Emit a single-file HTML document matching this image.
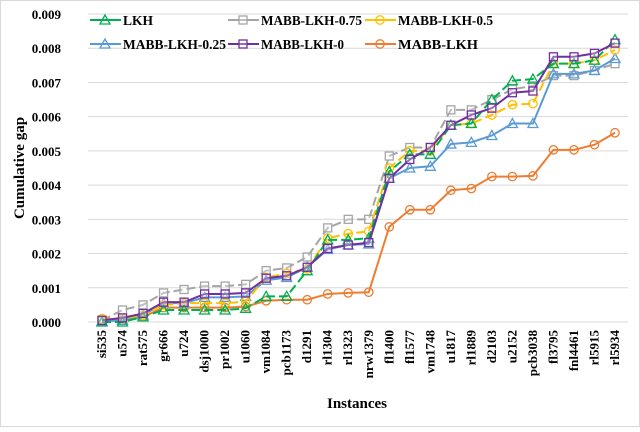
<!DOCTYPE html>
<html><head><meta charset="utf-8"><style>
body{margin:0;background:#fff}
svg text{font-family:"Liberation Serif",serif;font-weight:bold;fill:#000}
</style></head><body>
<svg id="s" width="640" height="427" xmlns="http://www.w3.org/2000/svg">
<rect x="0.5" y="0.5" width="639" height="426" fill="#fff" stroke="#d9d9d9"/>
</svg>
<script>
const s=document.getElementById('s');const NS='http://www.w3.org/2000/svg';
function el(t,a,txt){const e=document.createElementNS(NS,t);for(const k in a)e.setAttribute(k,a[k]);if(txt!==undefined)e.textContent=txt;s.appendChild(e);return e;}
const y0=322,dy=34.22,x0=102,dx=20.52;
const Y=v=>y0-v*dy,X=i=>x0+i*dx;
for(let i=0;i<=9;i++){el('line',{x1:88,x2:628,y1:Y(i),y2:Y(i),stroke:'#d9d9d9','stroke-width':1});
el('text',{x:61,y:Y(i)+5,'text-anchor':'end','font-size':13},(i/1000).toFixed(3));}
const names=['si535','u574','rat575','gr666','u724','dsj1000','pr1002','u1060','vm1084','pcb1173','d1291','rl1304','rl1323','nrw1379','fl1400','fl1577','vm1748','u1817','rl1889','d2103','u2152','pcb3038','fl3795','fnl4461','rl5915','rl5934'];
names.forEach((n,i)=>el('text',{x:0,y:0,'font-size':13,'text-anchor':'end',transform:`translate(${X(i)+4},330) rotate(-90)`},n));
el('text',{x:357,y:408,'text-anchor':'middle','font-size':15},'Instances');
el('text',{x:0,y:0,'text-anchor':'middle','font-size':15,transform:'translate(24,168) rotate(-90)'},'Cumulative gap');
const S=[
{c:'#a5a5a5',m:'sq',d:true,v:[0.05,0.35,0.5,0.85,0.95,1.05,1.05,1.1,1.5,1.58,1.9,2.75,3.0,3.0,4.85,5.1,5.1,6.2,6.2,6.5,6.8,6.9,7.2,7.2,7.35,7.55]},
{c:'#ed7d31',m:'ci',v:[0.05,0.05,0.15,0.42,0.42,0.42,0.42,0.45,0.62,0.65,0.65,0.82,0.85,0.87,2.78,3.28,3.28,3.85,3.9,4.25,4.25,4.27,5.03,5.03,5.18,5.53]},
{c:'#5b9bd5',m:'tr',v:[0.02,0.05,0.2,0.55,0.55,0.72,0.72,0.75,1.22,1.3,1.6,2.12,2.25,2.28,4.2,4.5,4.55,5.2,5.25,5.45,5.8,5.8,7.25,7.25,7.35,7.7]},
{c:'#ffc000',m:'ci',d:true,v:[0.1,0.1,0.2,0.5,0.55,0.55,0.55,0.6,1.3,1.42,1.55,2.45,2.58,2.65,4.5,5.0,5.0,5.75,5.8,6.05,6.35,6.38,7.55,7.55,7.65,7.95]},
{c:'#00b050',m:'tr',d:true,v:[0,0,0.15,0.35,0.35,0.35,0.35,0.4,0.75,0.75,1.5,2.4,2.4,2.45,4.4,4.9,4.9,5.75,5.8,6.5,7.05,7.1,7.55,7.55,7.65,8.25]},
{c:'#7030a0',m:'sq',v:[0.05,0.12,0.25,0.58,0.58,0.82,0.82,0.85,1.28,1.35,1.6,2.15,2.25,2.32,4.2,4.75,5.1,5.75,6.05,6.25,6.7,6.75,7.75,7.75,7.85,8.15]}];
function mk(m,x,y,c){if(m=='sq')el('rect',{x:x-4,y:y-4,width:8,height:8,fill:'#fff','fill-opacity':0.3,stroke:c,'stroke-width':1.3});
else if(m=='ci')el('circle',{cx:x,cy:y,r:4.2,fill:'none',stroke:c,'stroke-width':1.3});
else el('polygon',{points:`${x},${y-5} ${x-5},${y+4} ${x+5},${y+4}`,fill:'none',stroke:c,'stroke-width':1.3});}
S.forEach(o=>{el('polyline',{points:o.v.map((v,i)=>X(i)+','+Y(v)).join(' '),fill:'none',stroke:o.c,'stroke-width':2,'stroke-dasharray':o.d?'9,4':'none'});
o.v.forEach((v,i)=>mk(o.m,X(i),Y(v),o.c));});
const L=[['LKH','#00b050','tr',90,20,30],['MABB-LKH-0.75','#a5a5a5','sq',228,20,101],['MABB-LKH-0.5','#ffc000','ci',365,20,95],
['MABB-LKH-0.25','#5b9bd5','tr',90,44,103],['MABB-LKH-0','#7030a0','sq',228,44,83],['MABB-LKH','#ed7d31','ci',365,44,80]];
L.forEach(([t,c,m,x,y,w])=>{el('line',{x1:x,x2:x+31,y1:y,y2:y,stroke:c,'stroke-width':2});mk(m,x+15,y,c);
el('text',{x:x+33,y:y+5,'font-size':14,textLength:w,lengthAdjust:'spacingAndGlyphs'},t);});
</script>
</body></html>
